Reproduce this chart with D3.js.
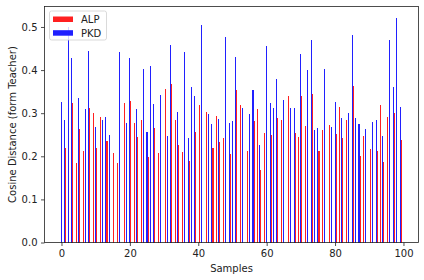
<!DOCTYPE html>
<html>
<head>
<meta charset="utf-8">
<script src="https://cdn.jsdelivr.net/npm/d3@7"></script>
<style>
  body { margin: 0; background: #fff; }
  svg { display: block; font-family: "DejaVu Sans", sans-serif; }
</style>
</head>
<body>
<svg id="plotSVG" width="424" height="280"></svg>
<script>
// cosine distance per sample, null where the bar is not visible in the picture
let alp = [null,0.219,null,0.323,0.184,0.263,0.212,null,0.312,0.300,
           0.219,0.291,null,0.235,null,0.207,0.184,null,0.323,null,
           0.328,0.277,0.244,0.284,null,0.198,null,0.265,0.207,null,
           0.356,null,0.367,0.284,0.226,0.210,null,0.189,null,0.256,
           0.319,null,0.302,null,0.219,0.293,0.233,0.242,null,0.205,
           null,0.353,0.319,null,0.212,null,0.282,0.309,0.168,0.254,
           null,0.249,null,0.288,0.284,null,0.340,null,0.254,0.244,
           0.340,0.270,null,0.344,null,0.212,0.261,null,0.272,null,
           0.251,0.314,0.242,0.284,null,0.363,null,0.200,0.247,null,
           0.217,null,0.212,0.319,0.186,0.291,null,0.300,null,0.237]

let pkd = [0.326,0.284,0.500,0.428,null,0.335,null,0.309,0.444,null,
           0.268,null,0.284,0.291,0.249,null,null,0.442,null,0.277,
           0.428,null,0.309,null,0.402,0.256,0.409,0.321,null,0.342,
           null,0.247,0.458,null,0.302,null,0.442,0.242,0.360,0.340,
           null,0.504,null,0.298,0.275,null,0.286,null,0.476,0.277,
           0.282,0.430,null,0.312,null,0.298,0.353,null,0.226,null,
           0.456,0.323,0.312,0.379,null,0.330,null,0.312,0.312,null,
           0.437,null,0.400,0.469,0.261,0.265,null,0.402,null,0.268,
           0.326,null,0.288,null,0.300,0.481,0.288,0.275,null,0.263,
           null,0.279,0.284,null,0.247,null,0.469,0.360,0.520,0.314]

let xTicks = [0, 20, 40, 60, 80, 100]
let yTicks = [0.0, 0.1, 0.2, 0.3, 0.4, 0.5]

let seriesColors = {"ALP": "#ff2020", "PKD": "#2020ff"}

let svg = d3.select("#plotSVG")

let xScale = d3.scaleLinear()
    .domain([-4.97, 104.4])
    .range([44.5, 418.5])

let yScale = d3.scaleLinear()
    .domain([0, 0.5475])
    .range([242.5, 6.5])

let barW = 0.3  // about one pixel

// bars
svg.append("g")
    .selectAll("rect")
    .data(pkd.map((v, i) => ({i: i, v: v})).filter(d => d.v !== null))
    .join("rect")
    .attr("x", d => xScale(d.i) - 0.5)
    .attr("y", d => yScale(d.v))
    .attr("width", xScale(barW) - xScale(0))
    .attr("height", d => yScale(0) - yScale(d.v))
    .attr("fill", seriesColors.PKD)
    .attr("shape-rendering", "crispEdges")

svg.append("g")
    .selectAll("rect")
    .data(alp.map((v, i) => ({i: i, v: v})).filter(d => d.v !== null))
    .join("rect")
    .attr("x", d => xScale(d.i + barW) - 0.5)
    .attr("y", d => yScale(d.v))
    .attr("width", xScale(barW) - xScale(0))
    .attr("height", d => yScale(0) - yScale(d.v))
    .attr("fill", seriesColors.ALP)
    .attr("shape-rendering", "crispEdges")

// axes
let xAxis = svg.append("g")
    .attr("transform", "translate(0,242.5)")
    .call(d3.axisBottom(xScale).tickValues(xTicks).tickSize(3.5).tickPadding(3.5).tickFormat(d3.format("d")))
let yAxis = svg.append("g")
    .attr("transform", "translate(44.5,0)")
    .call(d3.axisLeft(yScale).tickValues(yTicks).tickSize(3.5).tickPadding(3.5).tickFormat(d3.format(".1f")))

svg.selectAll(".domain").remove()
svg.selectAll(".tick line").attr("stroke", "#222").attr("stroke-width", 0.8)
svg.selectAll(".tick text")
    .style("font-family", "DejaVu Sans, sans-serif")
    .style("font-size", "10px")
    .attr("fill", "#222")

// frame
svg.append("rect")
    .attr("x", xScale.range()[0])
    .attr("y", yScale.range()[1])
    .attr("width", xScale.range()[1] - xScale.range()[0])
    .attr("height", yScale.range()[0] - yScale.range()[1])
    .attr("fill", "none")
    .attr("stroke", "#222")
    .attr("stroke-width", 0.8)

// axis titles
svg.append("text")
    .attr("x", (xScale.range()[0] + xScale.range()[1]) / 2)
    .attr("y", 272)
    .attr("text-anchor", "middle")
    .style("font-size", "10px")
    .attr("fill", "#222")
    .text("Samples")

svg.append("text")
    .attr("transform", "translate(15.5," + (yScale.range()[0] + yScale.range()[1]) / 2 + ") rotate(-90)")
    .attr("text-anchor", "middle")
    .style("font-size", "10px")
    .attr("fill", "#222")
    .text("Cosine Distance (form Teacher)")

// legend
let legend = svg.append("g").attr("transform", "translate(49.5,11)")
legend.append("rect")
    .attr("width", 57)
    .attr("height", 29)
    .attr("rx", 2)
    .attr("fill", "white")
    .attr("fill-opacity", 0.8)
    .attr("stroke", "#d0d0d0")
    .attr("stroke-width", 0.8)

Object.keys(seriesColors).forEach((name, i) => {
    legend.append("rect")
        .attr("x", 3.5)
        .attr("y", 5.5 + i * 13.7)
        .attr("width", 20)
        .attr("height", 5.5)
        .attr("fill", seriesColors[name])
    legend.append("text")
        .attr("x", 31.5)
        .attr("y", 12.3 + i * 13.7)
        .style("font-size", "10px")
        .attr("fill", "#222")
        .text(name)
})
</script>
</body>
</html>
